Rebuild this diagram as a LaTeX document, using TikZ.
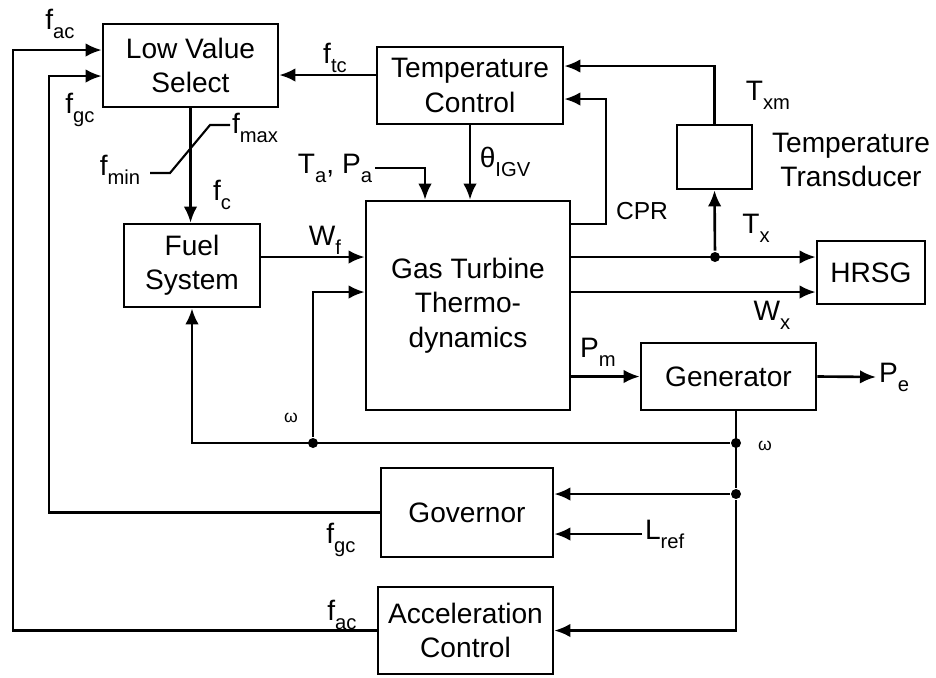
\documentclass[tikz,border=0pt]{standalone}
\usepackage{fontspec}
\setmainfont{Liberation Sans}
\usetikzlibrary{arrows.meta,positioning,calc}
\newcommand{\sg}[2]{#1\raisebox{-0.6ex}{\fontsize{11.5}{11.5}\selectfont #2}}

\begin{document}
\begin{tikzpicture}[x=0.02cm,y=-0.02cm,line width=1.5pt,>={Latex[length=3.2mm,width=2.7mm]},
  blk/.style={draw,align=center,inner sep=0pt,font=\fontsize{16}{19.5}\selectfont},
  lbl/.style={inner sep=1pt,align=center,font=\fontsize{16}{19.5}\selectfont},
  sm/.style={inner sep=1pt,font=\fontsize{10}{12}\selectfont},
  dot/.style={circle,fill,inner sep=0pt,minimum size=2mm}]
\useasboundingbox (0,0) rectangle (936,677);
% blocks
\node[blk,minimum width=3.5cm,minimum height=1.66cm] (lvs) at (190.5,65.5) {Low Value\\Select};
\node[blk,minimum width=3.72cm,minimum height=1.54cm] (tc) at (470,85.5) {Temperature\\Control};
\node[blk,minimum width=2.72cm,minimum height=1.66cm] (fuel) at (192,265.5) {Fuel\\System};
\node[blk,minimum width=4.08cm,minimum height=4.18cm] (gt) at (468,305.5) {Gas Turbine\\Thermo-\\dynamics};
\node[blk,minimum width=1.5cm,minimum height=1.28cm] (tt) at (714.5,157) {};
\node[blk,minimum width=2.16cm,minimum height=1.26cm] (hrsg) at (871,272.5) {HRSG};
\node[blk,minimum width=3.5cm,minimum height=1.34cm] (gen) at (728.5,376.5) {Generator};
\node[blk,minimum width=3.44cm,minimum height=1.78cm] (gov) at (467,512.5) {Governor};
\node[blk,minimum width=3.5cm,minimum height=1.74cm] (acc) at (465.5,630.5) {Acceleration\\Control};
% labels
\node[lbl] (fac1) at (60,24) {\sg{f}{ac}};
\node[lbl] (fgc1) at (80,110) {\sg{f}{gc}};
\node[lbl] (ftc) at (335,58) {\sg{f}{tc}};
\node[lbl] (fmax) at (255,128) {\sg{f}{max}};
\node[lbl] (fmin) at (120,170) {\sg{f}{min}};
\node[lbl] (fc) at (222,195) {\sg{f}{c}};
\node[lbl] (wf) at (325,240) {\sg{W}{f}};
\node[lbl] (ta) at (335,168) {\sg{T}{a}, \sg{P}{a}};
\node[lbl] (igv) at (505,162) {\sg{θ}{IGV}};
\node[lbl,font=\fontsize{14}{16}\selectfont] (cprl) at (642,211) {CPR};
\node[lbl] (txml) at (768,95) {\sg{T}{xm}};
\node[lbl] (ttl) at (851,160) {Temperature\\Transducer};
\node[lbl] (txl) at (756,228) {\sg{T}{x}};
\node[lbl] (wxl) at (772,315) {\sg{W}{x}};
\node[lbl] (pm) at (598,352) {\sg{P}{m}};
\node[lbl,anchor=west] (pe) at (876,377) {\sg{P}{e}};
\node[sm] (w1) at (291,418) {ω};
\node[sm] (w2) at (765,446) {ω};
\node[lbl,anchor=west] (lref) at (642,534) {\sg{L}{ref}};
\node[lbl] (fgc2) at (341,540) {\sg{f}{gc}};
\node[lbl] (fac2) at (342,615) {\sg{f}{ac}};
% junctions and bends
\node[dot] (dx) at (715,257) {};
\node[dot] (d1) at (313,443) {};
\node[dot] (d2) at (736,443) {};
\node[dot] (d3) at (736,494) {};
\coordinate (acL) at (13,50);
\coordinate (gcL) at (49,76);
\coordinate (tcL) at (330,75);
\coordinate (wfL) at (300,257);
\coordinate (wL) at (313,292);
\coordinate (wx) at (650,292);
\coordinate (cpr) at (606,224);
\coordinate (cprT) at (606,99);
\coordinate (txm) at (715,66);
\coordinate (tap) at (425,165);
% signals
\draw[->] (acc.west) -| (acL) -- (acL -| lvs.west);
\draw[->] (gov.west) -| (gcL) -- (gcL -| lvs.west);
\draw[->] (tcL -| tc.west) -- (tcL -| lvs.east);
\draw[->] (lvs.south) -- (lvs.south |- fuel.north);
\draw[line width=1.2pt] (150,173) -- (170,173) -- (210,125) -- (230,125);
\draw[->] (wfL -| fuel.east) -- (wfL -| gt.west);
\draw[->] (ta.east) -| (tap |- gt.north);
\draw[->] (tc.south) -- (tc.south |- gt.north);
\draw[->] (cpr -| gt.east) -- (cpr) -- (cprT) -- (cprT -| tc.east);
\draw[->] (tt.north) |- (txm -| tc.east);
\draw[->] (dx -| gt.east) -- (dx -| hrsg.west);
\draw[->] (dx) -- (tt.south);
\draw[->] (wx -| gt.east) -- (wx -| hrsg.west);
\draw[->] (gen.west -| gt.east) -- (gen.west);
\draw[->] (gen.east) -- (pe.west);
\draw[->] (gen.south -| d2) -- (d3) |- (acc.east);
\draw[->] (d3) -- (d3 -| gov.east);
\draw[->] (d2) -| (fuel.south);
\draw[->] (d1) |- (wL -| gt.west);
\draw[->] (lref.west) -- (lref.west -| gov.east);
\end{tikzpicture}
\end{document}
